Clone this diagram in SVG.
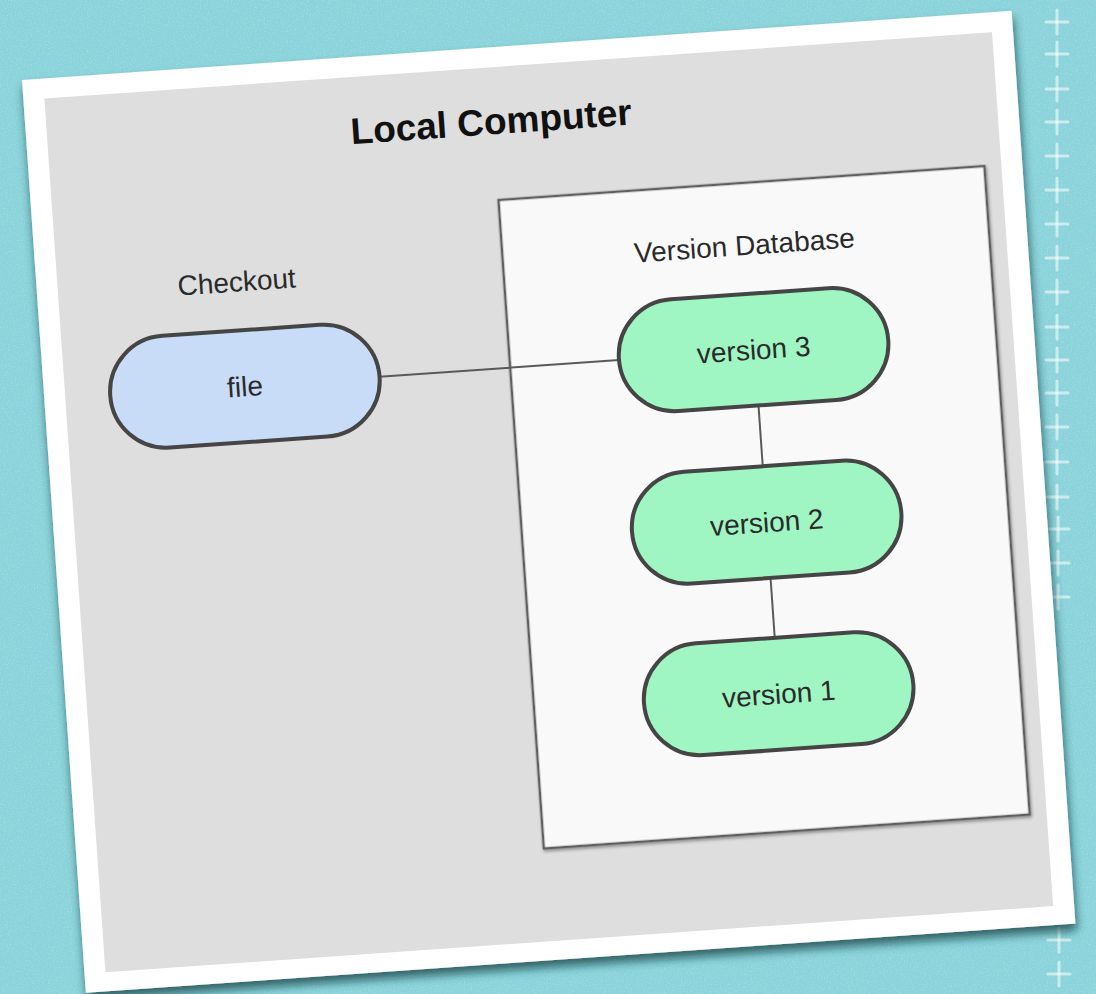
<svg xmlns="http://www.w3.org/2000/svg" width="1096" height="994" viewBox="0 0 1096 994">
  <defs>
    <style>
      .label { font-family: "Liberation Sans", Arial, sans-serif; fill: #2a2a2a; text-anchor: middle; }
      .title { font-family: "Liberation Sans", Arial, sans-serif; font-weight: bold; fill: #111; text-anchor: middle; font-size: 37px; }
      .pill { stroke: #454545; stroke-width: 4; }
      .pill-blue { fill: #c8dcf8; }
      .pill-green { fill: #a0f6c3; }
      .edge { stroke: #5a5a5a; stroke-width: 2; fill: none; }
      .stitch { stroke: #ffffff; stroke-opacity: 0.55; stroke-width: 3; stroke-linecap: round; }
    </style>
    <filter id="paperNoise" x="0" y="0" width="100%" height="100%">
      <feTurbulence type="fractalNoise" baseFrequency="0.7" numOctaves="2" seed="4" result="n"/>
      <feColorMatrix in="n" type="matrix" values="0 0 0 0 1  0 0 0 0 1  0 0 0 0 1  0 0 0 -1.4 0.75"/>
    </filter>
    <filter id="cardShadow" x="-5%" y="-5%" width="110%" height="115%">
      <feDropShadow dx="1" dy="7" stdDeviation="5" flood-color="#153c42" flood-opacity="0.75"/>
    </filter>
    <filter id="boxShadow" x="-3%" y="-3%" width="106%" height="106%">
      <feDropShadow dx="1" dy="2" stdDeviation="1.5" flood-color="#000" flood-opacity="0.35"/>
    </filter>
    <g id="plus">
      <line class="stitch" x1="-11" y1="0" x2="11" y2="0"/>
      <line class="stitch" x1="0" y1="-12" x2="0" y2="12"/>
    </g>
  </defs>

  <!-- textured teal backdrop -->
  <rect x="0" y="0" width="1096" height="994" fill="#8ad3da"/>
  <rect x="0" y="0" width="1096" height="994" filter="url(#paperNoise)" opacity="0.35"/>

  <!-- stitched column on the right -->
  <g id="stitches">
    <use href="#plus" x="1057" y="22"/>
    <use href="#plus" x="1057" y="54"/>
    <use href="#plus" x="1057" y="89"/>
    <use href="#plus" x="1057" y="122"/>
    <use href="#plus" x="1057" y="156"/>
    <use href="#plus" x="1057" y="190"/>
    <use href="#plus" x="1057" y="224"/>
    <use href="#plus" x="1057" y="258"/>
    <use href="#plus" x="1057" y="292"/>
    <use href="#plus" x="1057" y="327"/>
    <use href="#plus" x="1057" y="360"/>
    <use href="#plus" x="1057" y="393"/>
    <use href="#plus" x="1057" y="427"/>
    <use href="#plus" x="1057" y="462"/>
    <use href="#plus" x="1057" y="497"/>
    <use href="#plus" x="1058" y="529"/>
    <use href="#plus" x="1058" y="563"/>
    <use href="#plus" x="1058" y="597"/>
    <use href="#plus" x="1059" y="940"/>
    <use href="#plus" x="1059" y="974"/>
  </g>

  <!-- tilted photo card -->
  <g id="card" transform="translate(22 80) rotate(-4)">
    <rect x="0" y="0" width="992" height="915" fill="#ffffff" filter="url(#cardShadow)"/>
    <rect id="local-computer" x="21" y="20" width="950" height="876" fill="#dedede"/>
    <text class="title" x="465" y="87">Local Computer</text>

    <g id="version-database">
      <rect x="467" y="153" width="487" height="650" fill="#f9f9f9" stroke="#5e5e5e" stroke-width="2.5" filter="url(#boxShadow)"/>
      <text class="label" x="709" y="225" font-size="28">Version Database</text>
    </g>

    <text id="checkout-label" class="label" x="200" y="226" font-size="28">Checkout</text>

    <g id="connectors">
      <line class="edge" x1="336" y1="321" x2="576" y2="321"/>
      <line class="edge" x1="712" y1="376" x2="712" y2="437"/>
      <line class="edge" x1="712" y1="549" x2="712" y2="609"/>
    </g>

    <g id="file">
      <rect class="pill pill-blue" x="66" y="265" width="270" height="112" rx="56"/>
      <text class="label" x="201" y="331" font-size="28">file</text>
    </g>

    <g id="version-3">
      <rect class="pill pill-green" x="576" y="264" width="270" height="112" rx="56"/>
      <text class="label" x="711" y="330" font-size="28">version 3</text>
    </g>

    <g id="version-2">
      <rect class="pill pill-green" x="577" y="437" width="270" height="112" rx="56"/>
      <text class="label" x="712" y="503" font-size="28">version 2</text>
    </g>

    <g id="version-1">
      <rect class="pill pill-green" x="577" y="609" width="270" height="112" rx="56"/>
      <text class="label" x="712" y="675" font-size="28">version 1</text>
    </g>
  </g>
</svg>
